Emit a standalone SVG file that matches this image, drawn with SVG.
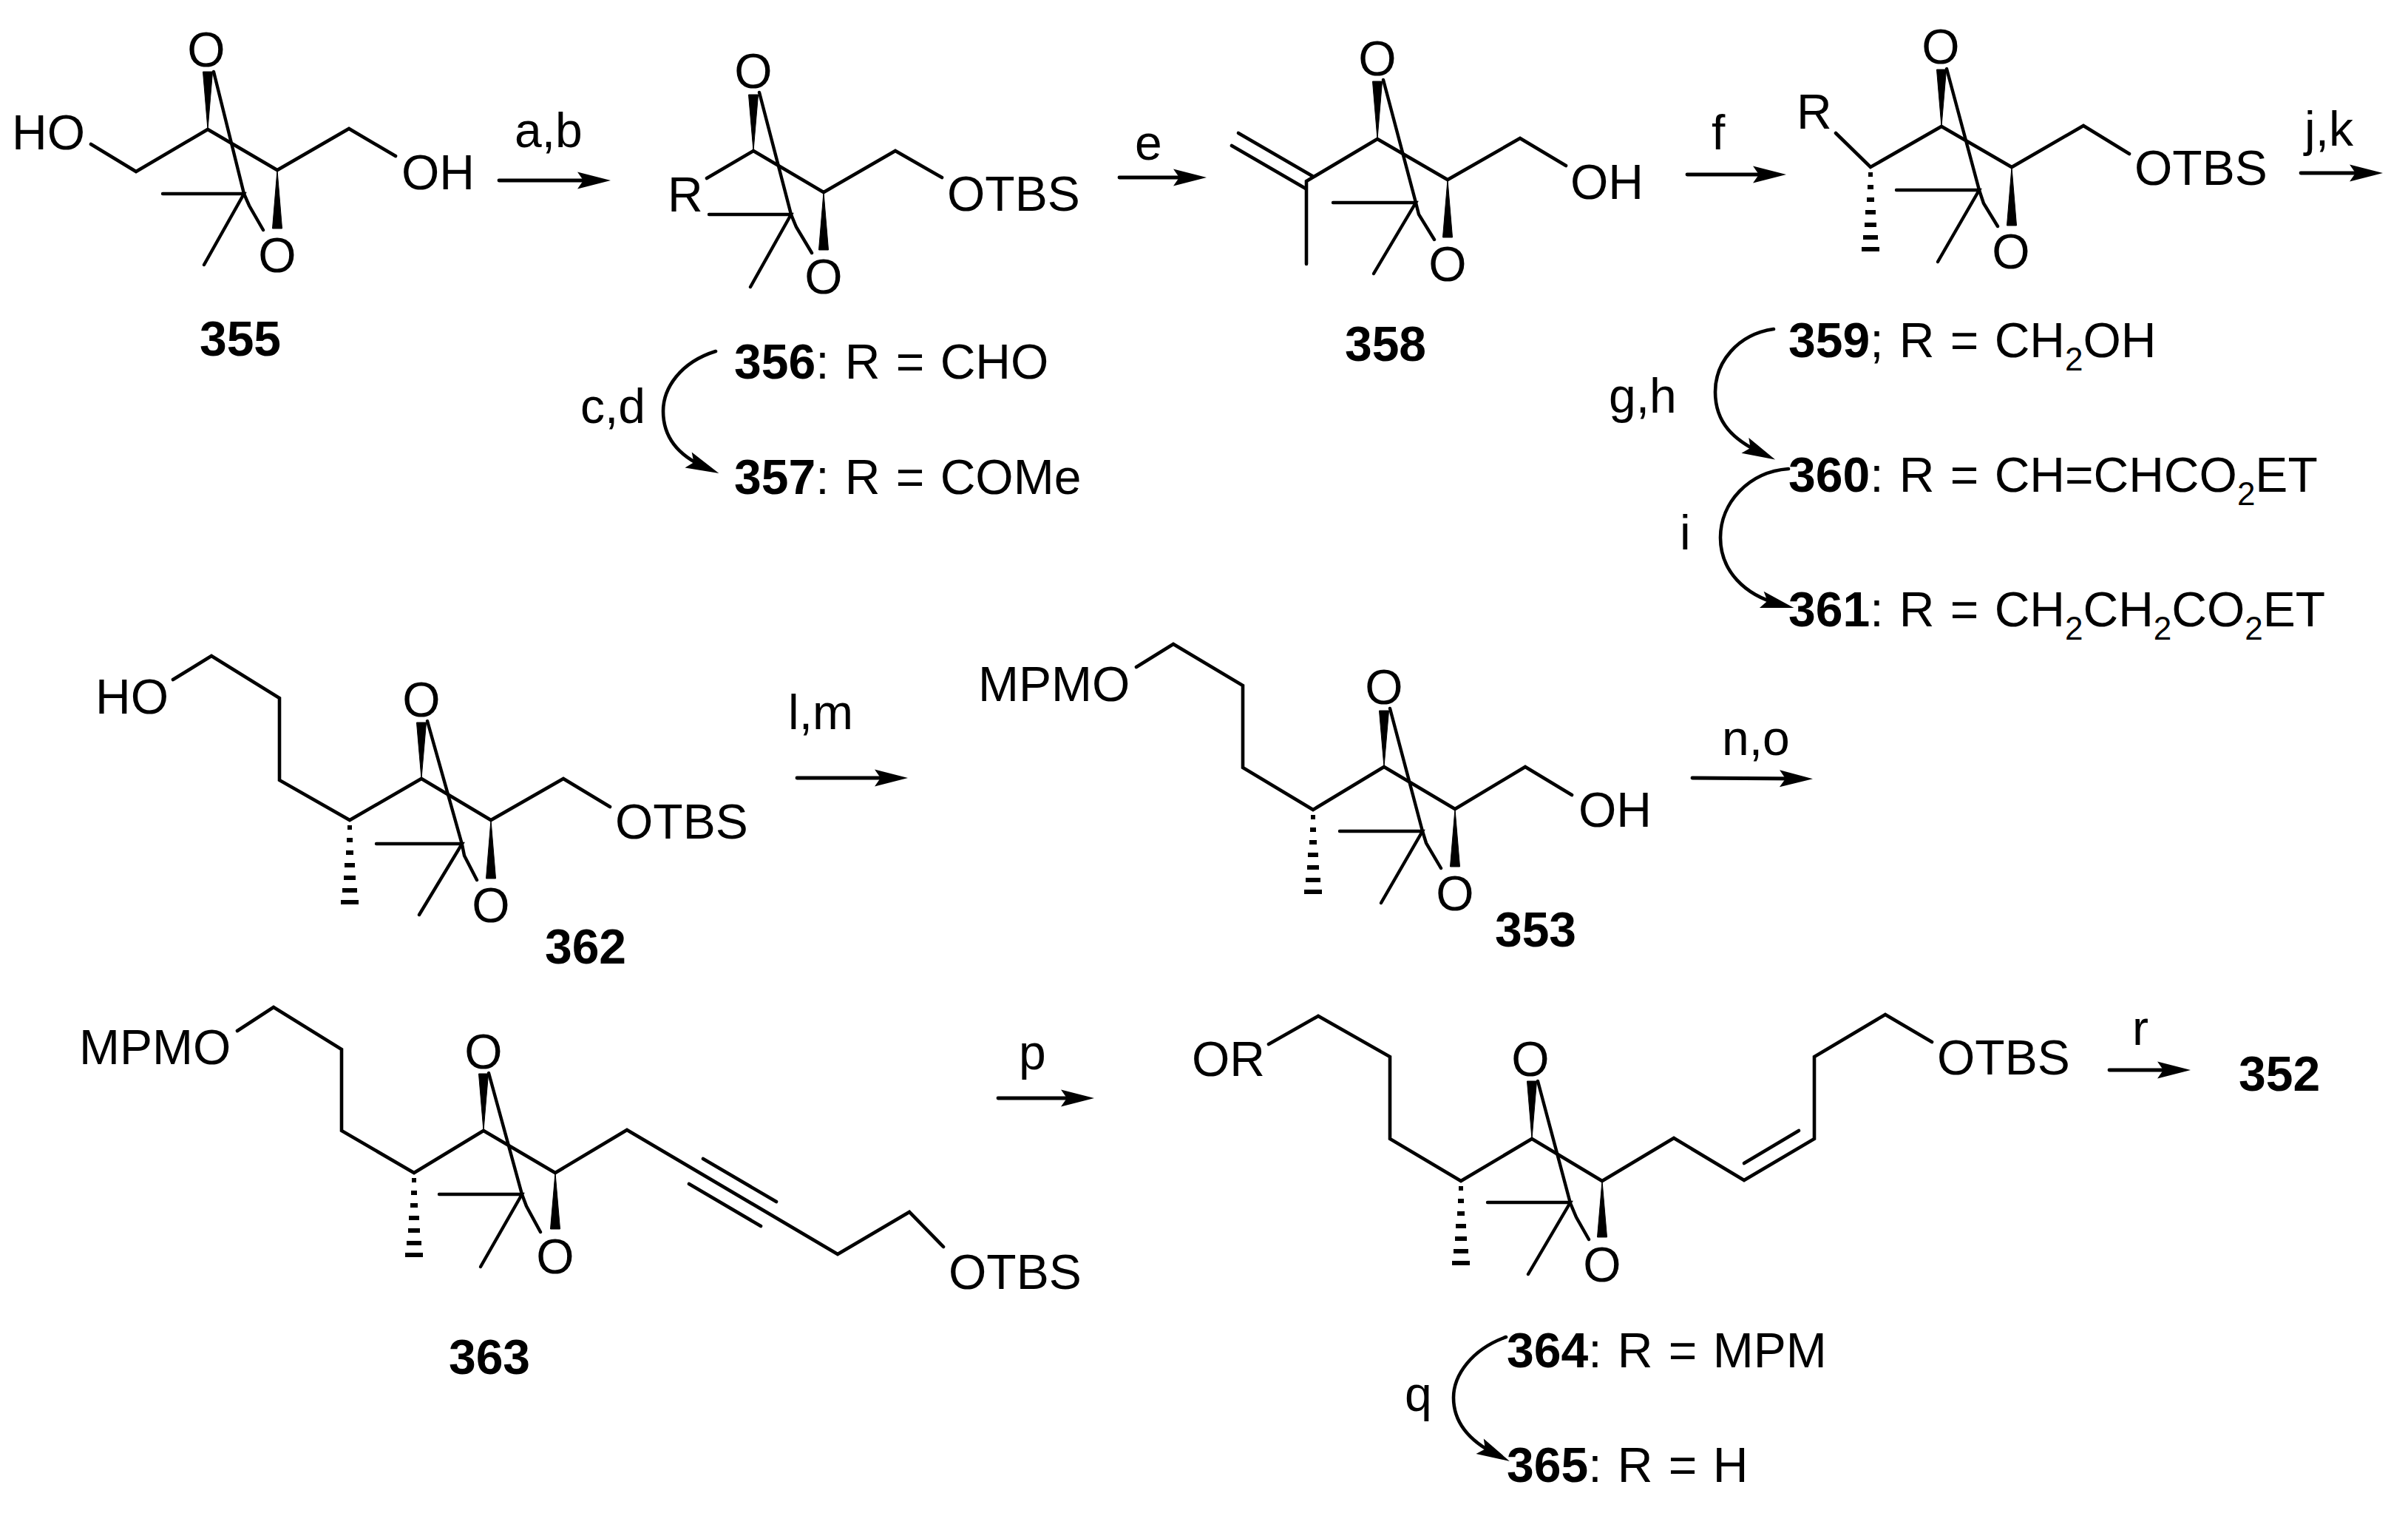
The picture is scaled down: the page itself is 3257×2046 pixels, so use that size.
<svg xmlns="http://www.w3.org/2000/svg" width="3257" height="2046" viewBox="0 0 3257 2046">
<style>
text{font-family:"Liberation Sans",Arial,sans-serif;font-size:66px;fill:#000}
.m{text-anchor:middle}
.b{font-weight:bold}
.s{font-size:44px}
.r{word-spacing:3px}
.bond{fill:none;stroke:#000;stroke-width:4.6;stroke-linejoin:miter;stroke-linecap:round}
.thin{fill:none;stroke:#000;stroke-width:4.4;stroke-linecap:round;stroke-linejoin:miter}
.w{fill:#000;stroke:#000;stroke-width:1}
.arr{fill:none;stroke:#000;stroke-width:4.8;stroke-linecap:round;marker-end:url(#head)}
.cur{fill:none;stroke:#000;stroke-width:4.6;stroke-linecap:round;marker-end:url(#head)}
</style>
<defs>
<marker id="head" markerUnits="userSpaceOnUse" markerWidth="46" markerHeight="24" refX="25" refY="12" orient="auto" overflow="visible">
<path d="M45,12 L0,0.5 L8,12 L0,23.5 Z" fill="#000"/>
</marker>
<g id="hash" fill="#000">
<rect x="-3" y="7" width="6" height="6"/>
<rect x="-4" y="24" width="8" height="6"/>
<rect x="-5" y="41" width="10" height="6"/>
<rect x="-7" y="58" width="14" height="6"/>
<rect x="-8" y="75" width="16" height="6"/>
<rect x="-10" y="92" width="20" height="6"/>
<rect x="-12" y="108" width="24" height="6"/>
</g>
</defs>

<g id="connectors">
<line class="arr" x1="675" y1="244" x2="806" y2="244"/>
<line class="arr" x1="1514" y1="240" x2="1612" y2="240"/>
<line class="arr" x1="2282" y1="236" x2="2396" y2="236"/>
<line class="arr" x1="3112" y1="234" x2="3203" y2="234"/>
<line class="arr" x1="1078" y1="1052" x2="1208" y2="1052"/>
<line class="arr" x1="2289" y1="1052" x2="2432" y2="1053"/>
<line class="arr" x1="1350" y1="1485" x2="1460" y2="1485"/>
<line class="arr" x1="2853" y1="1447" x2="2943" y2="1447"/>
<path class="cur" d="M968,475 C920,490 897,525 897,556 C897,590 915,615 954,632"/>
<path class="cur" d="M2399,445 C2350,452 2320,490 2320,530 C2320,572 2345,595 2383,613"/>
<path class="cur" d="M2419,634 C2365,638 2327,680 2327,727 C2327,772 2360,805 2407,817"/>
<path class="cur" d="M2037,1808 C1990,1825 1966,1860 1966,1890 C1966,1925 1990,1950 2024,1967"/>
</g>

<g id="reagents">
<text x="696" y="199">a,b</text>
<text x="785" y="572">c,d</text>
<text x="1535" y="216">e</text>
<text x="2315" y="202">f</text>
<text x="2176" y="558">g,h</text>
<text x="2272" y="743">i</text>
<text x="3117" y="197">j,k</text>
<text x="1066" y="986">l,m</text>
<text x="2329" y="1021">n,o</text>
<text x="1378" y="1446">p</text>
<text x="1900" y="1908">q</text>
<text x="2884" y="1413">r</text>
</g>

<g id="n355">
<polyline class="bond" points="123,195 184,232 281,175 375,230 472,174 535,211"/>
<polygon class="w" points="281,175 274.5,97 287.5,97"/>
<polygon class="w" points="375,230 368.5,309 381.5,309"/>
<polyline class="thin" points="289,97 330,262 337,278 356,311"/>
<polyline class="thin" points="220,262 330,262 276,358"/>
<text x="16" y="202">HO</text>
<text x="543" y="256">OH</text>
<text class="m" x="279" y="90">O</text>
<text class="m" x="375" y="368">O</text>
<text class="m b" x="325" y="481">355</text>
</g>

<g id="n356">
<polyline class="bond" points="956,241 1019,204 1114,260 1211,204 1274,240"/>
<polygon class="w" points="1019,204 1012.5,128 1025.5,128"/>
<polygon class="w" points="1114,260 1107.5,338 1120.5,338"/>
<polyline class="thin" points="1027,125 1070,290 1077,307 1098,342"/>
<polyline class="thin" points="959,290 1070,290 1015,388"/>
<text x="903" y="286">R</text>
<text x="1281" y="285">OTBS</text>
<text class="m" x="1019" y="119">O</text>
<text class="m" x="1114" y="397">O</text>
<text class="r" x="993" y="512"><tspan class="b">356</tspan>: R = CHO</text>
<text class="r" x="993" y="668"><tspan class="b">357</tspan>: R = COMe</text>
</g>

<g id="n358">
<polyline class="bond" points="1767,357 1767,245 1863,188 1958,243 2056,187 2118,224"/>
<line class="bond" x1="1675" y1="180" x2="1775" y2="238"/>
<line class="bond" x1="1666" y1="197" x2="1766" y2="255"/>
<polygon class="w" points="1863,188 1856.5,110 1869.5,110"/>
<polygon class="w" points="1958,243 1951.5,321 1964.5,321"/>
<polyline class="thin" points="1871,108 1915,274 1919,290 1940,324"/>
<polyline class="thin" points="1803,274 1915,274 1858,370"/>
<text x="2124" y="269">OH</text>
<text class="m" x="1863" y="102">O</text>
<text class="m" x="1958" y="380">O</text>
<text class="m b" x="1874" y="488">358</text>
</g>

<g id="n359">
<polyline class="bond" points="2483,180 2530,226 2626,171 2721,226 2818,170 2880,208"/>
<polygon class="w" points="2626,171 2619.5,94 2632.5,94"/>
<polygon class="w" points="2721,226 2714.5,305 2727.5,305"/>
<polyline class="thin" points="2633,93 2677,257 2683,275 2702,306"/>
<polyline class="thin" points="2565,257 2677,257 2621,354"/>
<use href="#hash" x="2530" y="226"/>
<text x="2430" y="174">R</text>
<text x="2887" y="250">OTBS</text>
<text class="m" x="2625" y="86">O</text>
<text class="m" x="2720" y="363">O</text>
<text class="r" x="2419" y="483"><tspan class="b">359</tspan>; R = CH<tspan class="s" dy="18">2</tspan><tspan dy="-18">OH</tspan></text>
<text class="r" x="2419" y="665"><tspan class="b">360</tspan>: R = CH=CHCO<tspan class="s" dy="18">2</tspan><tspan dy="-18">ET</tspan></text>
<text class="r" x="2419" y="847"><tspan class="b">361</tspan>: R = CH<tspan class="s" dy="18">2</tspan><tspan dy="-18">CH</tspan><tspan class="s" dy="18">2</tspan><tspan dy="-18">CO</tspan><tspan class="s" dy="18">2</tspan><tspan dy="-18">ET</tspan></text>
</g>

<g id="n362">
<polyline class="bond" points="234,919 286,887 378,944 378,1055 473,1109 570,1053 664,1109 762,1053 825,1091"/>
<polygon class="w" points="570,1053 563.5,977 576.5,977"/>
<polygon class="w" points="664,1109 657.5,1188 670.5,1188"/>
<polyline class="thin" points="578,975 625,1142 628,1157 645,1190"/>
<polyline class="thin" points="509,1141 625,1141 567,1237"/>
<use href="#hash" x="473" y="1109"/>
<text x="129" y="965">HO</text>
<text x="832" y="1134">OTBS</text>
<text class="m" x="570" y="969">O</text>
<text class="m" x="664" y="1247">O</text>
<text class="m b" x="792" y="1303">362</text>
</g>

<g id="n353">
<polyline class="bond" points="1537,902 1587,871 1681,927 1681,1038 1776,1095 1872,1037 1968,1094 2063,1037 2126,1075"/>
<polygon class="w" points="1872,1037 1865.5,961 1878.5,961"/>
<polygon class="w" points="1968,1094 1961.5,1172 1974.5,1172"/>
<polyline class="thin" points="1880,958 1924,1124 1929,1140 1949,1174"/>
<polyline class="thin" points="1812,1124 1924,1124 1868,1221"/>
<use href="#hash" x="1776" y="1095"/>
<text x="1323" y="948">MPMO</text>
<text x="2135" y="1118">OH</text>
<text class="m" x="1872" y="952">O</text>
<text class="m" x="1968" y="1231">O</text>
<text class="m b" x="2077" y="1280">353</text>
</g>

<g id="n363">
<polyline class="bond" points="321,1394 370,1362 462,1419 462,1529 560,1586 654,1529 751,1586 848,1528 1133,1696 1230,1639 1276,1686"/>
<line class="bond" x1="951" y1="1567" x2="1050" y2="1625"/>
<line class="bond" x1="932" y1="1601" x2="1029" y2="1658"/>
<polygon class="w" points="654,1529 647.5,1452 660.5,1452"/>
<polygon class="w" points="751,1586 744.5,1662 757.5,1662"/>
<polyline class="thin" points="661,1451 706,1615 712,1631 731,1666"/>
<polyline class="thin" points="594,1615 706,1615 650,1713"/>
<use href="#hash" x="560" y="1586"/>
<text x="107" y="1439">MPMO</text>
<text x="1283" y="1743">OTBS</text>
<text class="m" x="654" y="1445">O</text>
<text class="m" x="751" y="1722">O</text>
<text class="m b" x="662" y="1858">363</text>
</g>

<g id="n364">
<polyline class="bond" points="1716,1412 1783,1374 1880,1429 1880,1540 1976,1597 2072,1540 2167,1597 2264,1539 2359,1596 2454,1540 2454,1429 2550,1372 2613,1409"/>
<line class="bond" x1="2359" y1="1573" x2="2433" y2="1529"/>
<polygon class="w" points="2072,1540 2065.5,1462 2078.5,1462"/>
<polygon class="w" points="2167,1597 2160.5,1673 2173.5,1673"/>
<polyline class="thin" points="2080,1462 2124,1627 2132,1646 2149,1676"/>
<polyline class="thin" points="2012,1626 2124,1626 2067,1723"/>
<use href="#hash" x="1976" y="1597"/>
<text x="1612" y="1455">OR</text>
<text x="2620" y="1453">OTBS</text>
<text class="m" x="2070" y="1455">O</text>
<text class="m" x="2167" y="1733">O</text>
<text class="r" x="2038" y="1849"><tspan class="b">364</tspan>: R = MPM</text>
<text class="r" x="2038" y="2004"><tspan class="b">365</tspan>: R = H</text>
</g>

<g id="n352">
<text class="b" x="3028" y="1475">352</text>
</g>
</svg>
